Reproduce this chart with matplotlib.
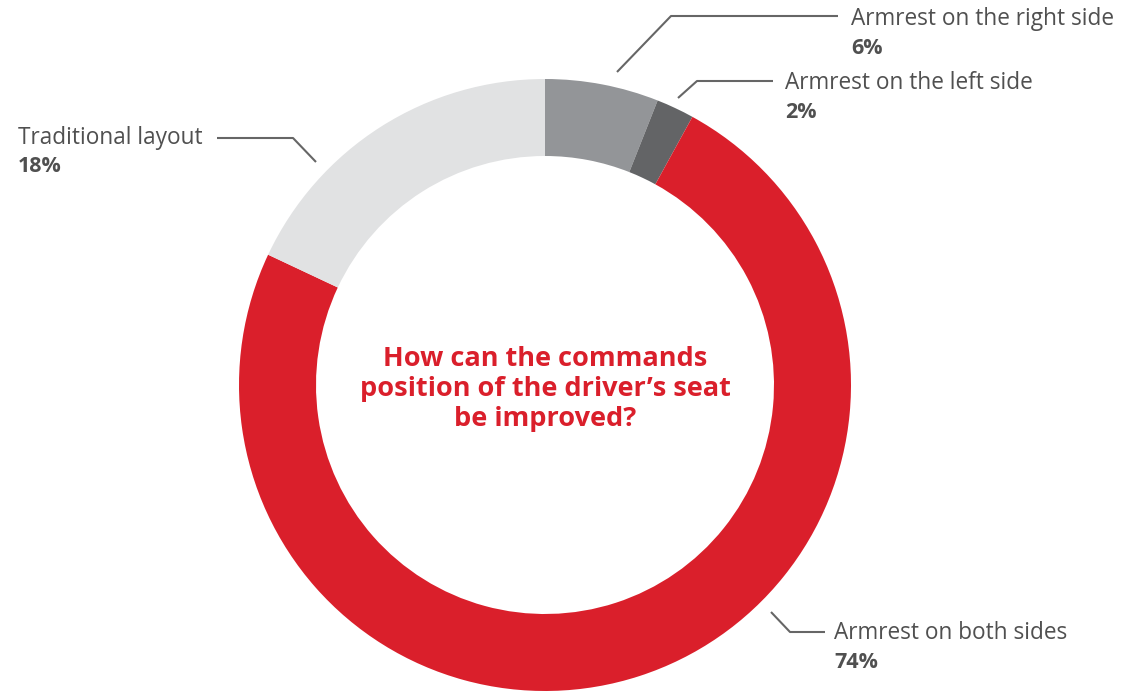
import matplotlib.pyplot as plt

labels = ["Armrest on the right side", "Armrest on the left side",
          "Armrest on both sides", "Traditional layout"]
shares = [6, 2, 74, 18]
colors = ["#939598", "#636466", "#DA1F2B", "#E1E2E3"]
title = "How can the commands\nposition of the driver\u2019s seat\nbe improved?"

W, H = 1122, 693
fig = plt.figure(figsize=(W / 100, H / 100), dpi=100)
ax = fig.add_axes([0, 0, 1, 1])

# donut, measured in pixels (y flipped)
cx, cy, R = 545, H - 385, 306
ax.pie(shares, colors=colors, startangle=90, counterclock=False,
       center=(cx, cy), radius=R, frame=True,
       wedgeprops=dict(width=77, linewidth=0))
ax.set_xlim(0, W)
ax.set_ylim(0, H)
ax.set_aspect("equal")
ax.axis("off")

font = "Open Sans"
txt_col = "#505050"
line_col = "#666666"

ax.text(cx, cy - 4, title, ha="center", va="center", color="#DA1F2B",
        fontsize=19.5, fontweight="bold", family=font, linespacing=1.18)

# leader lines + labels: (line points in px, text x, text y)
callouts = [
    ([(617, 72), (671, 16), (838, 16)], 851, 19),
    ([(678, 98), (697, 81), (773, 81)], 785, 83),
    ([(771, 612), (790, 632), (825, 632)], 834, 633),
    ([(316, 162), (293, 138), (217, 138)], 18, 138),
]
for (pts, tx, ty), lab, val in zip(callouts, labels, shares):
    xs = [p[0] for p in pts]
    ys = [H - p[1] for p in pts]
    ax.plot(xs, ys, color=line_col, lw=1.5, solid_capstyle="butt")
    ax.text(tx, H - ty, lab, ha="left", va="center", fontsize=16.3,
            color=txt_col, family=font)
    ax.text(tx, H - ty - 29, f"{val}%", ha="left", va="center", fontsize=15.5,
            color=txt_col, family=font, fontweight="bold")

fig.savefig("out.png", dpi=100, facecolor="white")
